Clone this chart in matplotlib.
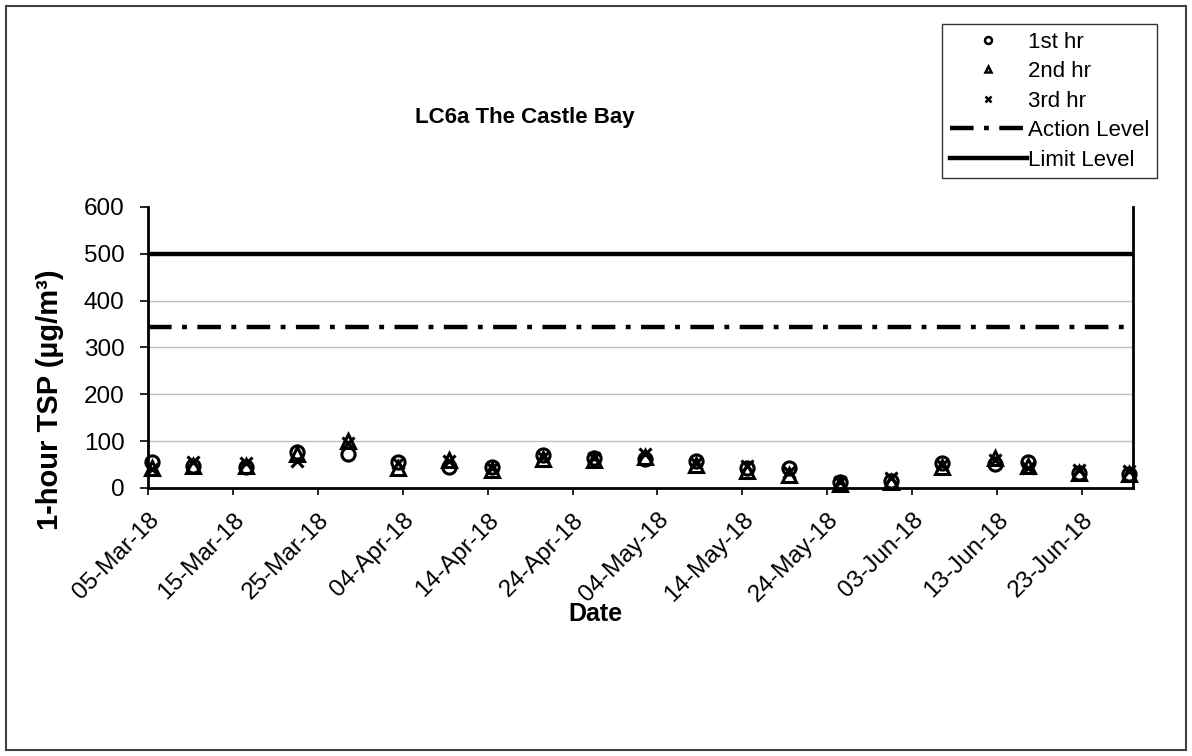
import matplotlib
matplotlib.use("Agg")
import matplotlib.pyplot as plt
import matplotlib.dates as mdates
from matplotlib.patches import Rectangle
from matplotlib.lines import Line2D
import pandas as pd

plt.rcParams['font.family'] = ['Liberation Sans', 'DejaVu Sans']
plt.rcParams['lines.scale_dashes'] = False

dates = ["2018-03-05 12:00", "2018-03-10 08:00", "2018-03-16 12:00", "2018-03-22 12:00",
         "2018-03-28 12:00", "2018-04-03 12:00", "2018-04-09 12:00", "2018-04-14 12:00",
         "2018-04-20 12:00", "2018-04-26 12:00", "2018-05-02 12:00", "2018-05-08 12:00",
         "2018-05-14 12:00", "2018-05-19 12:00", "2018-05-25 12:00", "2018-05-31 12:00",
         "2018-06-06 12:00", "2018-06-12 18:00", "2018-06-16 16:00", "2018-06-22 16:00",
         "2018-06-28 12:00"]
hr1 = [55, 47, 45, 76, 73, 56, 44, 44, 70, 64, 62, 57, 42, 42, 13, 16, 54, 52, 55, 33, 30]
hr2 = [42, 47, 47, 72, 100, 42, 60, 38, 62, 60, 66, 50, 37, 28, 8, 12, 45, 64, 48, 33, 30]
hr3 = [40, 55, 53, 57, 97, 53, 57, 42, 66, 63, 73, 53, 47, 35, 13, 22, 50, 60, 42, 38, 37]
action_level = 344
limit_level = 500
x_start = "2018-03-05"
x_end = "2018-06-29"
tick_dates = pd.date_range("2018-03-05", "2018-06-23", freq="10D")
y_ticks = [0, 100, 200, 300, 400, 500, 600]

W, H = 1192, 756
fig = plt.figure(figsize=(W / 100, H / 100), dpi=100)
ax = fig.add_axes([148 / W, 1 - 488 / H, (1133 - 148) / W, (488 - 207) / H])

x = pd.to_datetime(dates)
xs, xe = pd.Timestamp(x_start), pd.Timestamp(x_end)

# light horizontal gridlines (not at the top value)
for yv in y_ticks[1:-1]:
    ax.axhline(yv, color='#c0c0c0', lw=1.0, zorder=0)

ax.axhline(limit_level, color='black', lw=3.2, zorder=3)
action_dashes = (17, 7.5, 3.5, 7.5)
ax.axhline(action_level, color='black', lw=3.2, dashes=action_dashes, zorder=3)

mk = dict(linestyle='none', color='black', markerfacecolor='none', markeredgewidth=2.2, zorder=4, clip_on=False)
ax.plot(x, hr1, marker='o', markersize=9.5, **mk)
ax.plot(x, hr2, marker='^', markersize=9.5, **mk)
ax.plot(x, hr3, marker='x', markersize=8.5, **mk)

ax.set_xlim(xs, xe)
ax.set_ylim(0, 600)
ax.set_yticks(y_ticks)
ax.set_xticks(tick_dates)
ax.xaxis.set_major_formatter(mdates.DateFormatter('%d-%b-%y'))

for s in ['left', 'bottom', 'right']:
    ax.spines[s].set_linewidth(2.0)
    ax.spines[s].set_color('black')
ax.spines['top'].set_visible(False)

ax.tick_params(axis='y', direction='out', length=6, width=1.2, labelsize=17.5, pad=11)
ax.tick_params(axis='x', direction='out', length=5, width=1.2, labelsize=17.5, pad=10)
for lab in ax.get_xticklabels():
    lab.set_rotation(45)
    lab.set_ha('right')
    lab.set_rotation_mode('anchor')

ax.set_ylabel('1-hour TSP (µg/m³)', fontsize=21, fontweight='bold')
ax.yaxis.set_label_coords((64 - 148) / 985, (488 - 400) / 281)
ax.set_xlabel('Date', fontsize=18, fontweight='bold')
ax.xaxis.set_label_coords((595 - 148) / 985, (488 - 614) / 281)
ax.xaxis.label.set_va('center')

fig.text(525 / W, 1 - 117 / H, 'LC6a The Castle Bay', ha='center', va='center',
         fontsize=16, fontweight='bold')

handles = [
    Line2D([], [], linestyle='none', marker='o', markersize=5, color='black', markerfacecolor='none', markeredgewidth=1.8),
    Line2D([], [], linestyle='none', marker='^', markersize=5, color='black', markerfacecolor='none', markeredgewidth=1.8),
    Line2D([], [], linestyle='none', marker='x', markersize=4.8, color='black', markeredgewidth=1.8),
    Line2D([], [], color='black', lw=3.2, dashes=action_dashes),
    Line2D([], [], color='black', lw=3.2),
]
labels = ['1st hr', '2nd hr', '3rd hr', 'Action Level', 'Limit Level']
leg = fig.legend(handles, labels, loc='upper right', bbox_to_anchor=(1157 / W, 1 - 24 / H),
                 fontsize=16, frameon=True, fancybox=False, edgecolor='black',
                 handlelength=3.45, handletextpad=0.05, borderpad=0.35, labelspacing=0.38,
                 borderaxespad=0)
leg.get_frame().set_linewidth(1.0)

fig.patches.append(Rectangle((6 / W, 1 - 750 / H), (1186 - 6) / W, (750 - 6) / H,
                             transform=fig.transFigure, fill=False, edgecolor='#404040', lw=1.5))

fig.savefig('out.png', dpi=100)
